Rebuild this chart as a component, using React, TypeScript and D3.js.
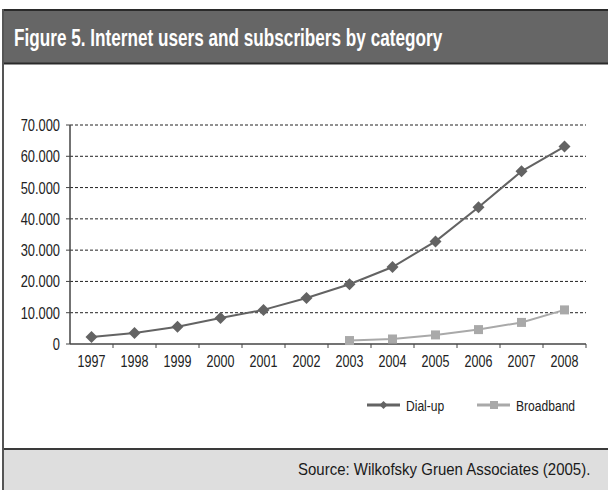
import React, { useLayoutEffect, useRef, useState } from "react";
import * as d3 from "d3";

const years = ["1997","1998","1999","2000","2001","2002","2003","2004","2005","2006","2007","2008"];
const dialUp = [2200, 3500, 5500, 8300, 10900, 14700, 19100, 24600, 32800, 43700, 55200, 63100];
const broadbandYears = ["2003","2004","2005","2006","2007","2008"];
const broadband = [1100, 1600, 2900, 4600, 6900, 10900];
const yTicks = [0, 10000, 20000, 30000, 40000, 50000, 60000, 70000];
const titleText = "Figure 5. Internet users and subscribers by category";
const sourceText = "Source: Wilkofsky Gruen Associates (2005).";
const seriesNames = ["Dial-up", "Broadband"];

const W = 608, H = 490;
const FONT = "'Liberation Sans', Arial, sans-serif";

function NText(props: { x: number; y: number; size: number; sq?: number; anchor?: string; fill?: string; weight?: string; dy?: string; children: React.ReactNode }) {
  const { x, y, size, sq = 0.8, anchor = "start", fill = "#222", weight = "normal", dy, children } = props;
  return (
    <g transform={`translate(${x},${y}) scale(${sq},1)`}>
      <text x={0} y={0} dy={dy} fontSize={size} textAnchor={anchor} fill={fill} fontWeight={weight}>{children}</text>
    </g>
  );
}

function FitText(props: { x: number; y: number; width: number; size: number; anchor?: string; fill?: string; weight?: string; children: string }) {
  const { x, y, width, size, anchor = "start", fill = "#222", weight = "normal", children } = props;
  const ref = useRef<SVGTextElement>(null);
  const [sq, setSq] = useState(0.8);
  useLayoutEffect(() => {
    if (ref.current) {
      const n = ref.current.getComputedTextLength();
      if (n > 0) setSq(width / n);
    }
  }, [width, children, size]);
  return (
    <g transform={`translate(${x},${y}) scale(${sq},1)`}>
      <text ref={ref} x={0} y={0} fontSize={size} textAnchor={anchor} fill={fill} fontWeight={weight}>{children}</text>
    </g>
  );
}

export default function App() {
  const x = d3.scaleBand<string>().domain(years).range([70, 586]);
  const y = d3.scaleLinear().domain([0, 70000]).range([344, 125]);
  const cx = (yr: string) => (x(yr) as number) + x.bandwidth() / 2;
  const fmt = (v: number) => (v === 0 ? "0" : d3.format(",")(v).replace(/,/g, "."));

  const line = d3.line<[number, number]>().x(d => d[0]).y(d => d[1]);
  const dPts: [number, number][] = years.map((yr, i) => [cx(yr), y(dialUp[i])]);
  const bPts: [number, number][] = broadbandYears.map((yr, i) => [cx(yr), y(broadband[i])]);
  const dark = "#636363";
  const light = "#a9a9a9";
  const diamond = (px: number, py: number, r: number) =>
    `M${px},${py - r}L${px + r},${py}L${px},${py + r}L${px - r},${py}Z`;

  return (
    <svg width={W} height={H} style={{ position: "absolute", left: 0, top: 0, background: "#fff" }}
      fontFamily={FONT}>
      {/* title bar */}
      <rect x={2} y={10} width={W - 2} height={54} fill="#666666" />
      <line x1={2} x2={W} y1={10} y2={10} stroke="#2a2a2a" strokeWidth={2} />
      <line x1={2} x2={W} y1={63.5} y2={63.5} stroke="#2a2a2a" strokeWidth={2} />
      <FitText x={14} y={46} width={428} size={24} weight="bold" fill="#fff">{titleText}</FitText>
      {/* footer */}
      <rect x={2} y={449} width={W - 2} height={H - 449} fill="#dedede" />
      <line x1={2} x2={W} y1={449} y2={449} stroke="#3a3a3a" strokeWidth={2} />
      <FitText x={298} y={475} width={292} size={16} fill="#1a1a1a">{sourceText}</FitText>
      {/* left border */}
      <line x1={3} x2={3} y1={9} y2={H} stroke="#555" strokeWidth={2} />

      {/* gridlines & y ticks */}
      {yTicks.map(t => (
        <g key={t}>
          {t > 0 && (
            <line x1={70} x2={586} y1={y(t)} y2={y(t)} stroke="#222" strokeWidth={1} strokeDasharray="3,2" />
          )}
          <line x1={66} x2={70} y1={y(t)} y2={y(t)} stroke="#444" strokeWidth={1} />
          <NText x={60} y={y(t)} dy="0.36em" size={16.5} sq={0.78} anchor="end">{fmt(t)}</NText>
        </g>
      ))}
      {/* axes */}
      <line x1={70} x2={70} y1={y(70000)} y2={y(0)} stroke="#444" strokeWidth={1.5} />
      <line x1={70} x2={586} y1={y(0)} y2={y(0)} stroke="#444" strokeWidth={1.5} />
      {years.map(yr => (
        <line key={"t" + yr} x1={(x(yr) as number) + x.bandwidth()} x2={(x(yr) as number) + x.bandwidth()}
          y1={y(0)} y2={y(0) + 4} stroke="#444" strokeWidth={1} />
      ))}
      {years.map(yr => (
        <NText key={"l" + yr} x={cx(yr)} y={367} size={16.5} sq={0.76} anchor="middle">{yr}</NText>
      ))}

      {/* series */}
      <path d={line(bPts) as string} fill="none" stroke={light} strokeWidth={2} />
      {bPts.map((p, i) => (
        <rect key={"b" + i} x={p[0] - 4.5} y={p[1] - 4.5} width={9} height={9} fill={light} />
      ))}
      <path d={line(dPts) as string} fill="none" stroke={dark} strokeWidth={2} />
      {dPts.map((p, i) => (
        <path key={"d" + i} d={diamond(p[0], p[1], 6)} fill={dark} />
      ))}

      {/* legend */}
      <line x1={367} x2={400} y1={405} y2={405} stroke={dark} strokeWidth={3} />
      <path d={diamond(383.5, 405, 4)} fill={dark} />
      <NText x={406} y={405} dy="0.36em" size={15.5} sq={0.78}>{seriesNames[0]}</NText>
      <line x1={477} x2={510} y1={405} y2={405} stroke={light} strokeWidth={3} />
      <rect x={490} y={401} width={8} height={8} fill={light} />
      <NText x={516} y={405} dy="0.36em" size={15.5} sq={0.78}>{seriesNames[1]}</NText>
    </svg>
  );
}
